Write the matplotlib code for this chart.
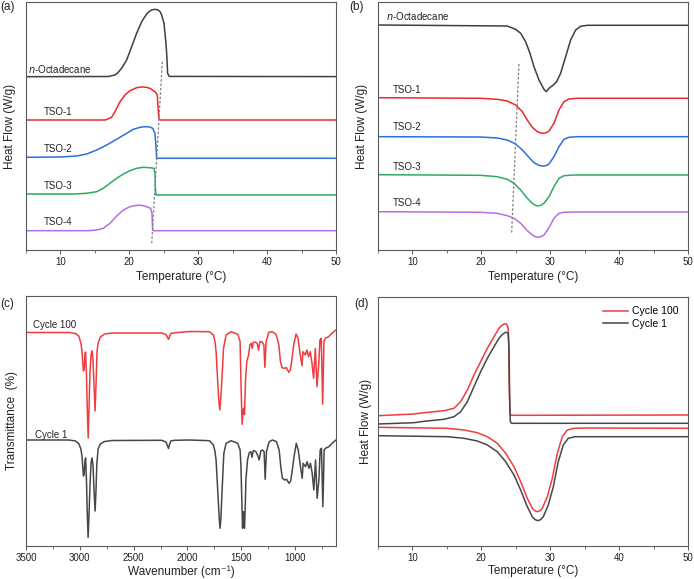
import matplotlib
matplotlib.use("Agg")
import matplotlib.pyplot as plt
from matplotlib.ticker import MultipleLocator, NullLocator

plt.rcParams['font.family'] = ['Liberation Sans', 'DejaVu Sans']
plt.rcParams['mathtext.fontset'] = 'custom'
plt.rcParams['mathtext.rm'] = 'Liberation Sans'

# ---------------- Panel (a): cooling DSC ----------------
a_oct_T = [5, 17.0, 17.9, 18.16, 18.88, 19.61, 20.34, 21.06, 21.79, 22.51, 22.9, 23.24, 23.6, 23.96, 24.25, 24.45, 24.69, 25.03, 25.27, 25.42, 25.56, 25.8, 50]
a_oct_y = [173.3, 173.5, 175, 176, 181.7, 190, 203.3, 216.7, 228.3, 236, 238.6, 240, 240.6, 240.5, 239.6, 238.5, 235, 226.7, 210, 196.7, 176.7, 173.6, 173.4]
a_t1_T = [5, 16.5, 16.71, 17.43, 17.92, 18.64, 19.37, 20.09, 21.06, 21.55, 22.03, 22.5, 23.0, 23.72, 24.06, 24.16, 24.30, 24.45, 50]
a_t1_y = [130, 130, 130.5, 132.7, 138.3, 148.3, 155, 159.3, 162.3, 162.9, 163, 162.6, 161.7, 158.3, 155, 143.3, 131.7, 130, 130]
a_t2_T = [5, 10, 12.35, 13.81, 15.26, 16.71, 18.16, 19.61, 20.58, 21.55, 22.1, 22.51, 23.0, 23.38, 23.72, 23.87, 23.96, 50]
a_t2_y = [92.7, 93, 94, 96, 100, 105, 110.7, 116.7, 120.7, 122.7, 123.2, 123.3, 122.9, 121.7, 116.7, 103.3, 91.7, 91.7]
a_t3_T = [5, 12.0, 13.81, 15.26, 16.22, 17.19, 18.16, 19.13, 20.09, 21.06, 22.03, 23.0, 23.58, 23.72, 23.77, 23.87, 50]
a_t3_y = [56, 56, 56.7, 58.3, 61.7, 66.7, 71.7, 76, 79.3, 81.7, 82.7, 82.3, 81.7, 76.7, 63.3, 55, 55]
a_t4_T = [5, 14.0, 15.26, 16.22, 17.19, 18.16, 19.13, 20.09, 21.06, 21.79, 22.51, 23.09, 23.29, 23.38, 23.45, 50]
a_t4_y = [19.3, 19.3, 20, 21.7, 26.7, 34, 40, 43.3, 44.7, 44.7, 43.3, 41.7, 36.7, 20, 19.3, 19.3]
a_dash_T = [24.79, 23.24]
a_dash_y = [188.3, 5]

# ---------------- Panel (b): heating DSC ----------------
b_oct_T = [5, 23.77, 24.98, 25.71, 26.43, 27.06, 27.64, 28.37, 29.09, 29.43, 29.82, 30.45, 30.93, 31.51, 32.24, 32.96, 33.69, 34.41, 35.38, 50]
b_oct_y = [225, 224, 220.7, 216.7, 208.3, 196.7, 183.3, 170, 160.7, 158.3, 161.7, 165, 168.3, 176.7, 193.3, 210, 220, 223.7, 224.7, 224.7]
b_t1_T = [5, 19.90, 22.32, 23.77, 24.98, 25.95, 26.67, 27.40, 28.13, 28.6, 29.0, 29.4, 29.82, 30.54, 31.27, 32.0, 32.72, 33.93, 50]
b_t1_y = [152.3, 151.7, 150.7, 149, 145, 138.3, 130, 122.7, 118.3, 117.1, 116.7, 117.2, 119, 126.7, 140, 148.3, 151, 151.7, 151.7]
b_t2_T = [5, 19.90, 22.32, 23.77, 24.98, 25.95, 26.92, 27.64, 28.37, 28.75, 29.09, 29.45, 29.82, 30.54, 31.27, 32.0, 32.72, 33.93, 50]
b_t2_y = [113.3, 113, 112, 110, 106, 100, 92.7, 87.3, 84.7, 84.1, 84, 84.5, 86, 93.3, 103.3, 110.7, 112.7, 113.3, 113.3]
b_t3_T = [5, 19.90, 22.32, 23.77, 24.74, 25.71, 26.67, 27.40, 27.8, 28.22, 28.65, 29.09, 29.82, 30.54, 31.27, 32.0, 33.45, 50]
b_t3_y = [75.3, 74.7, 73.3, 70.7, 66.7, 60, 51.7, 46.7, 44.8, 44, 44.8, 46.7, 53.3, 63.3, 71.7, 74.3, 75, 75]
b_t4_T = [5, 19.90, 22.32, 23.77, 24.74, 25.71, 26.67, 27.40, 27.8, 28.22, 28.65, 29.09, 29.82, 30.54, 31.27, 32.0, 33.45, 50]
b_t4_y = [38.3, 37.7, 36.7, 34.3, 31.7, 26.7, 19.3, 15, 13.4, 12.7, 13.4, 15, 22.3, 31.7, 36.7, 37.7, 38, 38]
b_dash_T = [25.46, 24.4]
b_dash_y = [186, 16.7]

dsc_labels = ['n-Octadecane', 'TSO-1', 'TSO-2', 'TSO-3', 'TSO-4']

# ---------------- Panel (c): FTIR ----------------
c1_w = [3500, 3100, 3040, 3010, 2990, 2980, 2972, 2966, 2960, 2952, 2946, 2938, 2930, 2923, 2915, 2905, 2895, 2886, 2877, 2868, 2858, 2850, 2842, 2830, 2810, 2770, 2700, 2240, 2200, 2185, 2176, 2168, 2155, 2120,
        1981, 1796, 1759, 1745, 1734, 1719, 1705, 1697, 1689, 1678, 1662, 1641, 1595, 1533, 1511, 1503, 1496, 1488, 1479, 1470, 1463, 1457, 1442, 1426, 1411, 1400, 1390, 1380, 1364, 1345, 1334, 1318, 1303, 1288, 1278, 1266,
        1241, 1210, 1173, 1148, 1133, 1118, 1097, 1079, 1057, 1041, 1026, 1010, 989, 971, 950, 934, 925, 903, 888, 872, 857, 841, 826, 810, 795, 779, 767, 755, 742, 730, 718, 687, 656, 620]
c1_T = [106, 106, 105, 102.5, 97, 90, 78, 70, 72, 86, 88, 65, 30, 8.5, 30, 62, 84, 88, 80, 55, 35, 55, 82, 97, 102, 104.5, 105.5, 105.7, 104, 100, 97.5, 101, 105, 105.7,
        106, 105.3, 101, 95, 86, 56, 28, 17.7, 28, 56, 92.7, 102.7, 105.3, 102.7, 96, 80, 50, 17.7, 34.3, 17.7, 40, 66, 86, 93.3, 94.3, 88.7, 95, 95.3, 94.3, 90, 86, 95.3, 96, 94.3, 66.7, 94.3,
        104.3, 106, 104.3, 96, 79.3, 67.7, 66, 66.7, 62.7, 65, 76, 89.3, 102.7, 96, 79.3, 67.7, 82.7, 79.3, 84.3, 77.7, 82.7, 72.7, 56, 86, 47.7, 66, 96, 97.7, 39.3, 96, 97.7, 99.3, 102.7, 106]
c100_w = [3500, 3100, 3040, 3010, 2990, 2980, 2972, 2966, 2960, 2952, 2946, 2938, 2930, 2922, 2915, 2905, 2895, 2886, 2877, 2868, 2858, 2850, 2840, 2830, 2810, 2770, 2700, 2240, 2200, 2185, 2176, 2168, 2155, 2120,
          1981, 1796, 1759, 1745, 1734, 1719, 1708, 1700, 1692, 1681, 1665, 1641, 1595, 1533, 1511, 1503, 1497, 1492, 1480, 1470, 1461, 1449, 1432, 1420, 1408, 1398, 1389, 1367, 1352, 1340, 1327, 1306, 1290, 1281, 1269,
          1244, 1213, 1176, 1151, 1136, 1121, 1099, 1081, 1059, 1044, 1028, 1013, 991, 973, 952, 936, 927, 905, 890, 874, 859, 843, 828, 812, 797, 781, 769, 757, 744, 732, 720, 689, 658, 620]
c100_T = [213.5, 213.5, 212.5, 210, 203, 195, 182, 175, 177, 192, 194, 170, 135, 108, 135, 175, 192, 195, 185, 160, 135, 160, 195, 203, 209, 212, 213, 213, 211.5, 208.5, 206.7, 209, 212.5, 213.2,
          214.5, 214.3, 211, 205, 194.3, 164.3, 145, 136, 145, 164.3, 197.7, 211, 214.3, 211.7, 204.3, 164.3, 140, 121.7, 137.7, 131.7, 164.3, 184.3, 191, 201, 202.7, 197.7, 203.7, 203.7, 202.7, 196, 204.3, 204.3, 201, 178.7, 204.3,
          213.7, 214.3, 211.7, 201, 184.3, 178.3, 177.7, 178.3, 173.7, 176, 187.7, 201, 212, 207.7, 191, 180.3, 194.3, 191, 196, 189.3, 194.3, 182.7, 167.7, 197.7, 159.3, 181, 206, 207.7, 141.7, 204.3, 207.7, 209.3, 212.7, 216]

# ---------------- Panel (d): cycling DSC ----------------
d_exo100_T = [5, 10.22, 11.68, 14.58, 16.03, 17.0, 17.97, 18.93, 19.90, 20.87, 21.84, 22.56, 22.95, 23.29, 23.55, 23.77, 23.9, 23.96, 24.06, 24.16, 24.35, 50]
d_exo100_y = [130.3, 132, 133.3, 135.3, 137.7, 144.3, 156, 171, 184.3, 197.7, 209.3, 217.7, 220.5, 222, 222.2, 221, 217, 209.3, 156, 132.7, 130.7, 131]
d_exo1_T = [5, 10.22, 11.68, 14.58, 16.03, 17.0, 17.97, 18.93, 19.90, 20.87, 21.84, 22.56, 22.95, 23.29, 23.53, 23.75, 23.87, 24.01, 24.11, 24.21, 24.40, 50]
d_exo1_y = [122, 123.3, 124.7, 126.7, 129.3, 134.3, 144.3, 159.3, 174.3, 187.7, 199.3, 207.7, 210.8, 212.7, 213.7, 213.5, 212.7, 199.3, 149.3, 124.3, 122.7, 122.7]
d_endo100_T = [5, 15.06, 17.48, 19.42, 20.87, 22.32, 23.53, 24.74, 25.71, 26.67, 27.40, 27.75, 28.13, 28.5, 28.85, 29.58, 30.30, 31.03, 31.75, 32.48, 33.45, 35.38, 50]
d_endo100_y = [118.7, 117.7, 116, 113.3, 109.3, 102.7, 92.7, 79.3, 64.3, 47.7, 37.7, 35.3, 34.3, 35.3, 37.7, 49.3, 67.7, 92.7, 109.3, 116, 117.7, 118, 117.7]
d_endo1_T = [5, 15.06, 17.48, 19.42, 20.87, 22.32, 23.53, 24.74, 25.71, 26.67, 27.40, 27.8, 28.22, 28.6, 29.0, 29.72, 30.45, 31.17, 31.90, 32.62, 33.59, 50]
d_endo1_y = [110.3, 109.3, 107.7, 105, 101, 94.3, 84.3, 71, 56, 39.3, 29.3, 26.4, 25.3, 26.4, 29.3, 41, 59.3, 84.3, 101, 107.7, 109.3, 109.3]
cycle_labels = ['Cycle 100', 'Cycle 1']

# ---------------- styling ----------------
BLACK = '#3f3f3f'
RED = '#f2262b'
BLUE = '#2a70d8'
GREEN = '#2eaa62'
PURPLE = '#b56fe3'
RED2 = '#f03c40'
GRAY2 = '#474747'
SPINE = '#5a5a5a'
LW = 1.1

W, H = 694, 579
fig = plt.figure(figsize=(W / 100, H / 100), dpi=100)


def make_ax(l, r, t, b):
    ax = fig.add_axes([l / W, 1 - b / H, (r - l) / W, (b - t) / H])
    for s in ax.spines.values():
        s.set_color(SPINE)
        s.set_linewidth(0.8)
    ax.yaxis.set_major_locator(NullLocator())
    ax.tick_params(axis='x', which='major', length=3, width=0.7, color=SPINE, pad=2, labelsize=7, labelcolor='#222222')
    ax.tick_params(axis='x', which='minor', length=2, width=0.6, color=SPINE)
    return ax


def style_dsc(ax):
    ax.set_xlim(5, 50)
    ax.xaxis.set_major_locator(MultipleLocator(10))
    ax.xaxis.set_minor_locator(MultipleLocator(5))
    ax.set_xlabel('Temperature (°C)', fontsize=8.5, labelpad=3, color='#222222')
    ax.set_ylabel('Heat Flow (W/g)', fontsize=8.5, labelpad=7, color='#222222')


# (a)
axa = make_ax(26, 336, 2, 250)
style_dsc(axa)
axa.set_ylim(0, 248)
cols = [BLACK, RED, BLUE, GREEN, PURPLE]
for (xs, ys), c in zip([(a_oct_T, a_oct_y), (a_t1_T, a_t1_y), (a_t2_T, a_t2_y), (a_t3_T, a_t3_y), (a_t4_T, a_t4_y)], cols):
    axa.plot(xs, ys, color=c, lw=LW)
axa.plot(a_dash_T, a_dash_y, color='#808080', lw=0.9, ls=(0, (2, 1.5)))
axa.text(5.3, 181, r'$\mathit{n}$-Octadecane', fontsize=7, va='center', ha='left', color='#222222')
for lab, y in zip(dsc_labels[1:], [138, 101, 64, 28]):
    axa.text(7.6, y, lab, fontsize=7, va='center', ha='left', color='#222222')

# (b)
axb = make_ax(378, 688, 2, 250)
style_dsc(axb)
axb.set_ylim(0, 248)
for (xs, ys), c in zip([(b_oct_T, b_oct_y), (b_t1_T, b_t1_y), (b_t2_T, b_t2_y), (b_t3_T, b_t3_y), (b_t4_T, b_t4_y)], cols):
    axb.plot(xs, ys, color=c, lw=LW)
axb.plot(b_dash_T, b_dash_y, color='#808080', lw=0.9, ls=(0, (2, 1.5)))
axb.text(6.2, 234, r'$\mathit{n}$-Octadecane', fontsize=7, va='center', ha='left', color='#222222')
for lab, y in zip(dsc_labels[1:], [160, 123, 83, 47]):
    axb.text(7.2, y, lab, fontsize=7, va='center', ha='left', color='#222222')

# (c)
axc = make_ax(26, 336, 296, 546)
axc.set_xlim(3500, 620)
axc.set_ylim(0, 250)
axc.xaxis.set_major_locator(MultipleLocator(500))
axc.xaxis.set_minor_locator(MultipleLocator(250))
axc.plot(c100_w, c100_T, color=RED2, lw=LW)
axc.plot(c1_w, c1_T, color=GRAY2, lw=LW)
axc.text(3435, 221, cycle_labels[0], fontsize=7, va='center', ha='left', color='#222222')
axc.text(3417, 111, cycle_labels[1], fontsize=7, va='center', ha='left', color='#222222')
fig.text(181 / W, 1.0 / H, 'Wavenumber (cm\u207b\u00b9)', fontsize=8.5,
         ha='center', va='bottom', color='#222222')
axc.set_ylabel('Transmittance  (%)', fontsize=8.5, labelpad=6, color='#222222')

# (d)
axd = make_ax(378, 688, 297, 546)
style_dsc(axd)
axd.set_xlabel('Temperature (°C)', fontsize=8.5, labelpad=1.5, color='#222222')
axd.set_ylim(0, 249)
axd.plot(d_exo100_T, d_exo100_y, color=RED2, lw=LW, label=cycle_labels[0])
axd.plot(d_exo1_T, d_exo1_y, color=GRAY2, lw=LW, label=cycle_labels[1])
axd.plot(d_endo100_T, d_endo100_y, color=RED2, lw=LW)
axd.plot(d_endo1_T, d_endo1_y, color=GRAY2, lw=LW)
axd.set_ylabel('Heat Flow (W/g)', fontsize=8.5, labelpad=4, color='#222222')
leg = axd.legend(loc='upper right', frameon=False, fontsize=7.5, handlelength=2.4,
                 handletextpad=0.35, labelspacing=0.25, borderaxespad=0.5)

# panel letters
for lab, x, y in [('(a)', 0, 7), ('(b)', 349, 7), ('(c)', 0, 304), ('(d)', 354, 304)]:
    fig.text(x / W, 1 - y / H, lab, fontsize=8.5, va='center', ha='left', color='#222222')

fig.savefig('out.png', dpi=100)
